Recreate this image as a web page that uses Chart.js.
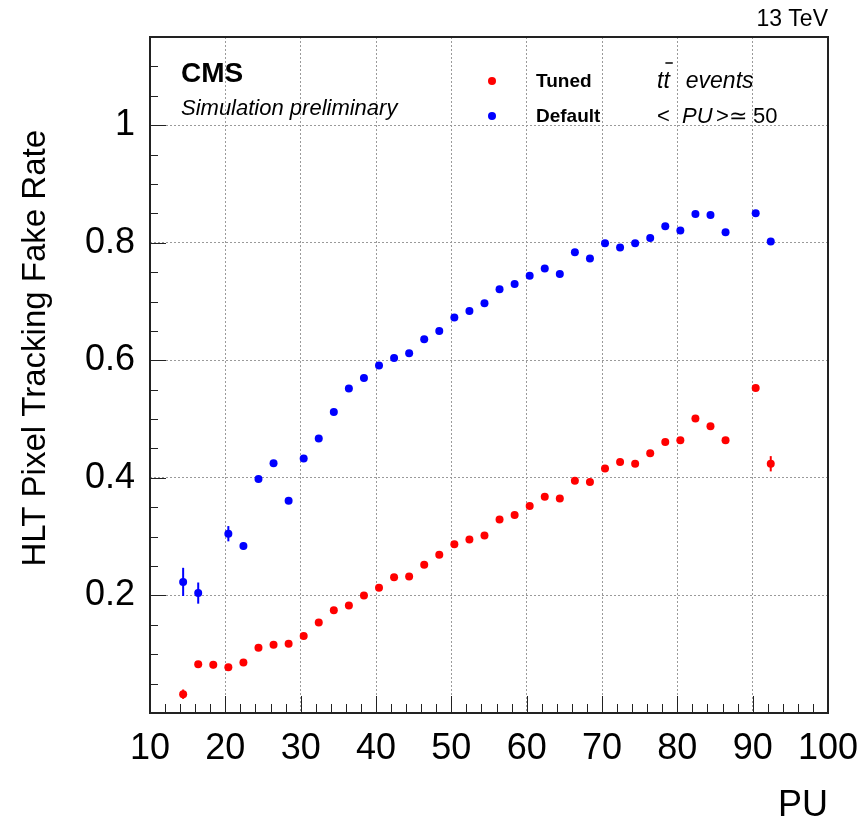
<!DOCTYPE html>
<html>
<head>
<meta charset="utf-8">
<title>HLT Pixel Tracking Fake Rate vs PU</title>
<script src="https://cdn.jsdelivr.net/npm/chart.js@4/dist/chart.umd.min.js"></script>
<style>
  html, body { margin: 0; padding: 0; background: #fff; }
  canvas { display: block; }
</style>
</head>
<body>
<canvas id="fakeRate" width="863" height="831"></canvas>
<script>
// pile-up bins (bin centres)
const puBins = [14.4, 16.4, 18.4, 20.4, 22.4, 24.4, 26.4, 28.4, 30.4, 32.4,
                34.4, 36.4, 38.4, 40.4, 42.4, 44.4, 46.4, 48.4, 50.4, 52.4,
                54.4, 56.4, 58.4, 60.4, 62.4, 64.4, 66.4, 68.4, 70.4, 72.4,
                74.4, 76.4, 78.4, 80.4, 82.4, 84.4, 86.4, 90.4, 92.4];

// fake rate, tuned settings
const tunedRate = [0.032, 0.083, 0.082, 0.078, 0.086, 0.111, 0.116, 0.118, 0.131, 0.154,
                   0.175, 0.183, 0.200, 0.213, 0.231, 0.232, 0.252, 0.269, 0.287, 0.295,
                   0.302, 0.329, 0.337, 0.352, 0.368, 0.365, 0.395, 0.393, 0.416, 0.427,
                   0.424, 0.442, 0.461, 0.464, 0.501, 0.488, 0.464, 0.553, 0.424];
const tunedErr  = [0.008, 0.004, 0.006, 0.004, 0.004, 0.003, 0.003, 0.003, 0.003, 0.003,
                   0.003, 0.003, 0.003, 0.003, 0.003, 0.003, 0.003, 0.003, 0.003, 0.003,
                   0.003, 0.003, 0.003, 0.003, 0.003, 0.003, 0.003, 0.003, 0.003, 0.003,
                   0.003, 0.003, 0.003, 0.003, 0.003, 0.003, 0.003, 0.004, 0.013];

// fake rate, default settings (no entry in the 18.4 bin)
const defaultRate = [0.223, 0.204, null, 0.305, 0.284, 0.398, 0.425, 0.361, 0.433, 0.467,
                     0.512, 0.552, 0.570, 0.591, 0.604, 0.612, 0.636, 0.650, 0.673, 0.684,
                     0.697, 0.721, 0.730, 0.744, 0.756, 0.747, 0.784, 0.773, 0.799, 0.792,
                     0.799, 0.808, 0.828, 0.821, 0.849, 0.847, 0.818, 0.850, 0.802];
const defaultErr  = [0.024, 0.018, 0, 0.013, 0.006, 0.004, 0.004, 0.004, 0.003, 0.003,
                     0.003, 0.003, 0.003, 0.003, 0.003, 0.003, 0.003, 0.003, 0.003, 0.003,
                     0.003, 0.003, 0.003, 0.003, 0.003, 0.003, 0.003, 0.003, 0.003, 0.003,
                     0.003, 0.003, 0.003, 0.003, 0.003, 0.003, 0.003, 0.003, 0.003];

const seriesNames = ['Tuned', 'Default'];
const seriesColors = ['#ff0000', '#0000ff'];

const xRange = [10, 100];
const yRange = [0, 1.15];
const xLabelTicks = [10, 20, 30, 40, 50, 60, 70, 80, 90, 100];
const yLabelTicks = [0.2, 0.4, 0.6, 0.8, 1];

const FONT = '"Liberation Sans", Arial, Helvetica, sans-serif';

function toPoints(ys, errs) {
  return puBins.map((x, i) => ({ x: x, y: ys[i], err: errs[i] }));
}

function isMajor(v, list) {
  return list.some(t => Math.abs(t - v) < 1e-6);
}

// tick positions: every 2 in PU, every 0.05 in rate
function stepTicks(min, max, step) {
  const out = [];
  const n = Math.round((max - min) / step);
  for (let i = 0; i <= n; i++) out.push({ value: +(min + i * step).toFixed(4) });
  return out;
}

// vertical error bars behind the markers
const errorBars = {
  id: 'errorBars',
  beforeDatasetsDraw(chart) {
    const ctx = chart.ctx;
    const ys = chart.scales.y;
    chart.data.datasets.forEach((ds, di) => {
      const meta = chart.getDatasetMeta(di);
      ctx.save();
      ctx.strokeStyle = ds.backgroundColor;
      ctx.lineWidth = 2;
      ds.data.forEach((p, i) => {
        if (p.y == null || !p.err) return;
        const el = meta.data[i];
        ctx.beginPath();
        ctx.moveTo(el.x, ys.getPixelForValue(p.y - p.err));
        ctx.lineTo(el.x, ys.getPixelForValue(p.y + p.err));
        ctx.stroke();
      });
      ctx.restore();
    });
  }
};

// frame, inner ticks, titles and the in-plot labels
const frameDecor = {
  id: 'frameDecor',
  afterDraw(chart) {
    const ctx = chart.ctx;
    const a = chart.chartArea;
    const xs = chart.scales.x, ys = chart.scales.y;
    ctx.save();

    // ticks pointing into the frame
    ctx.strokeStyle = '#222';
    ctx.lineWidth = 1;
    ctx.beginPath();
    xs.ticks.forEach(t => {
      const px = Math.round(xs.getPixelForValue(t.value)) + 0.5;
      const len = isMajor(t.value, xLabelTicks) ? 17 : 9;
      ctx.moveTo(px, a.bottom);
      ctx.lineTo(px, a.bottom - len);
    });
    ys.ticks.forEach(t => {
      const py = Math.round(ys.getPixelForValue(t.value)) + 0.5;
      const len = isMajor(t.value, yLabelTicks) ? 16 : 8;
      ctx.moveTo(a.left, py);
      ctx.lineTo(a.left + len, py);
    });
    ctx.stroke();

    // frame
    ctx.lineWidth = 2;
    ctx.strokeStyle = '#222';
    ctx.strokeRect(a.left, a.top, a.right - a.left, a.bottom - a.top);

    ctx.fillStyle = '#000';
    ctx.textBaseline = 'middle';

    // axis titles
    ctx.font = '36px ' + FONT;
    ctx.textAlign = 'right';
    ctx.fillText('PU', a.right, 806);

    ctx.save();
    ctx.translate(36, 130);
    ctx.rotate(-Math.PI / 2);
    ctx.font = '33px ' + FONT;
    ctx.textAlign = 'right';
    ctx.fillText('HLT Pixel Tracking Fake Rate', 0, 0);
    ctx.restore();

    ctx.font = '23px ' + FONT;
    ctx.textAlign = 'right';
    ctx.fillText('13 TeV', a.right, 20);

    // experiment label
    ctx.textAlign = 'left';
    ctx.font = 'bold 28px ' + FONT;
    ctx.fillText('CMS', 181, 74);
    ctx.font = 'italic 22px ' + FONT;
    ctx.fillText('Simulation preliminary', 181, 109);

    // legend
    const legendY = [81, 116];
    chart.data.datasets.forEach((ds, i) => {
      ctx.fillStyle = ds.backgroundColor;
      ctx.beginPath();
      ctx.arc(492, legendY[i], 4, 0, Math.PI * 2);
      ctx.fill();
      ctx.fillStyle = '#000';
      ctx.font = 'bold 19px ' + FONT;
      ctx.fillText(ds.label, 536, legendY[i] + 1);
    });

    // sample description
    ctx.font = 'italic 23px ' + FONT;
    ctx.fillText('tt', 657, 82);
    const ttW = ctx.measureText('tt').width;
    const tW = ctx.measureText('t').width;
    ctx.fillText('events', 657 + ttW + 16, 82);
    ctx.lineWidth = 1.5;
    ctx.strokeStyle = '#000';
    ctx.beginPath();
    ctx.moveTo(657 + tW + 2, 63);
    ctx.lineTo(657 + ttW + 3, 63);
    ctx.stroke();
    ctx.font = '22px ' + FONT;
    ctx.fillText('<', 657, 117);
    ctx.font = 'italic 22px ' + FONT;
    ctx.fillText('PU', 682, 117);
    ctx.font = '22px ' + FONT;
    ctx.fillText('>\u2243 50', 716, 117);

    ctx.restore();
  }
};

const ctx = document.getElementById('fakeRate').getContext('2d');

new Chart(ctx, {
  type: 'scatter',
  data: {
    datasets: [
      {
        label: seriesNames[0],
        data: toPoints(tunedRate, tunedErr),
        backgroundColor: seriesColors[0],
        borderColor: seriesColors[0],
        borderWidth: 0,
        pointRadius: 4,
        pointHoverRadius: 4
      },
      {
        label: seriesNames[1],
        data: toPoints(defaultRate, defaultErr),
        backgroundColor: seriesColors[1],
        borderColor: seriesColors[1],
        borderWidth: 0,
        pointRadius: 4,
        pointHoverRadius: 4
      }
    ]
  },
  options: {
    responsive: false,
    animation: false,
    events: [],
    layout: { padding: { top: 37, right: 35, left: 0, bottom: 0 } },
    plugins: {
      legend: { display: false },
      tooltip: { enabled: false }
    },
    scales: {
      x: {
        type: 'linear',
        min: xRange[0],
        max: xRange[1],
        afterBuildTicks: s => { s.ticks = stepTicks(xRange[0], xRange[1], 2); },
        afterFit: s => { s.height = 118; s.paddingLeft = 0; s.paddingRight = 0; },
        border: { display: false, dash: [2, 2] },
        grid: {
          drawTicks: false,
          lineWidth: 1,
          color: c => (c.tick && isMajor(c.tick.value, xLabelTicks) &&
                       c.tick.value > xRange[0] && c.tick.value < xRange[1]) ? '#9a9a9a' : 'rgba(0,0,0,0)'
        },
        ticks: {
          autoSkip: false,
          maxRotation: 0,
          padding: 14,
          color: '#000',
          font: { family: FONT, size: 36 },
          callback: v => isMajor(v, xLabelTicks) ? String(Math.round(v)) : ''
        }
      },
      y: {
        type: 'linear',
        min: yRange[0],
        max: yRange[1],
        afterBuildTicks: s => { s.ticks = stepTicks(yRange[0], yRange[1], 0.05); },
        afterFit: s => { s.width = 150; s.paddingTop = 0; s.paddingBottom = 0; },
        border: { display: false, dash: [2, 2] },
        grid: {
          drawTicks: false,
          lineWidth: 1,
          color: c => (c.tick && isMajor(c.tick.value, yLabelTicks)) ? '#9a9a9a' : 'rgba(0,0,0,0)'
        },
        ticks: {
          autoSkip: false,
          padding: 15,
          color: '#000',
          font: { family: FONT, size: 36 },
          callback: v => isMajor(v, yLabelTicks) ? String(+v.toFixed(1)) : ''
        }
      }
    }
  },
  plugins: [errorBars, frameDecor]
});
</script>
</body>
</html>
